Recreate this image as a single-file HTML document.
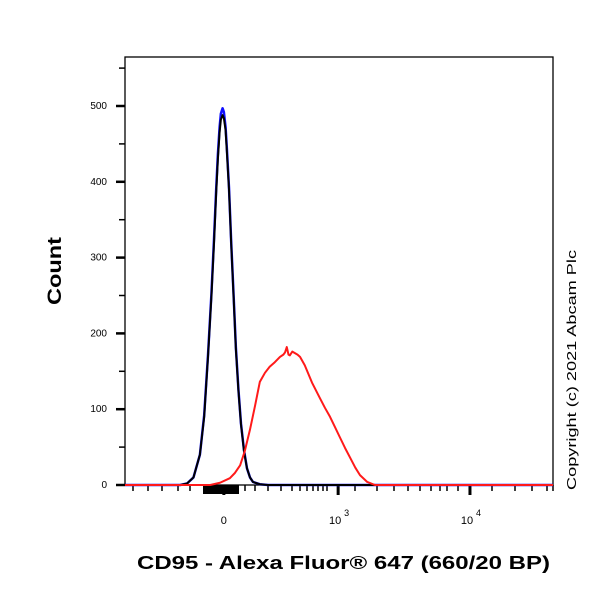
<!DOCTYPE html>
<html><head><meta charset="utf-8"><style>
body{margin:0;background:#fff;width:600px;height:600px;overflow:hidden}
svg{display:block;font-family:"Liberation Sans",Arial,sans-serif}
</style></head><body>
<svg id="chart" width="600" height="600"></svg>
<script>
const blackX=[129,145,160,175,185,194,202,208,213,217,221,224,228,231,235,238,243,248,254,259,265,271,278,285,292,299,315,334];
const blackY=[0,2,10,40,90,170,250,320,385,430,465,482,488,484,468,440,390,320,245,180,125,80,45,22,10,4,1,0];
const blueX=[129,145,160,175,185,194,202,208,213,217,221,224,228,231,235,238,243,248,254,259,265,271,278,285,292,299,315,334];
const blueY=[0,2,10,40,92,172,253,325,390,436,472,490,497,492,472,444,392,322,247,182,126,81,46,22,10,4,1,0];
const redX=[175,199,222,245,257,269,280,292,304,315,327,338,350,362,370,374,378,382,385,391,397,403,409,420,437,455,467,479,491,502,514,526,538,549,566,584];
const redY=[0,0,3,9,16,26,45,73,105,136,148,156,162,169,172,175,182,172,171,176,174,172,169,158,135,115,102,90,76,63,49,36,23,13,4,0];
const yTicks=[0,100,200,300,400,500];
const yTickLabels=["0","100","200","300","400","500"];
const xMajor=[231,498,806];
const xMajorLabels=["0","10","10"];
const xMajorSup=["","3","4"];
const L=125,R=553,T=57,B=485;
const xs=c=>L+c*(R-L)/1000;
const ys=v=>B-v*0.758;
const svg=document.getElementById('chart');
const NS='http://www.w3.org/2000/svg';
function mk(t,a,p){const e=document.createElementNS(NS,t);for(const k in a)e.setAttribute(k,a[k]);(p||svg).appendChild(e);return e;}
const frame=mk('rect',{x:L,y:T,width:R-L,height:B-T,fill:'none',stroke:'#000','stroke-width':1.3});


for(let v=0;v<=550;v+=50){
  const major=v%100===0;
  const t=mk('line',{x1:major?L-9:L-6,x2:L,y1:ys(v),y2:ys(v),stroke:'#000','stroke-width':major?2.5:1.5});
  
  
}
yTicks.forEach((v,i)=>{
  const t=mk('text',{x:L-18,y:ys(v)+3,'font-size':10,'text-anchor':'end'});
  t.textContent=yTickLabels[i];
  
  
});
const minorPx=[133,148,162,178,190,205,213,220,228,236,245,255,268,281,292,300,307,313,318,323,327,355,377,394,408,420,431,440,447,458,492,515,532,547,553];
minorPx.forEach(p=>{
  const t=mk('line',{x1:p,x2:p,y1:B,y2:B+6,stroke:'#000','stroke-width':1.5});
  
  
});
const dense=mk('rect',{x:203,y:B,width:36,height:9,fill:'#000'});


xMajor.forEach((c,i)=>{
  const t=mk('line',{x1:xs(c),x2:xs(c),y1:B,y2:B+10,stroke:'#000','stroke-width':3});
  
  
  const tx=mk('text',{x:xs(c)-(xMajorSup[i]?3:0),y:B+39,'font-size':11,'text-anchor':'middle'});
  tx.textContent=xMajorLabels[i];
  
  
  if(xMajorSup[i]){
    const s=mk('text',{x:xs(c)+6,y:B+31,'font-size':9});
    s.textContent=xMajorSup[i];
    
    
  }
});
function series(X,Y,color,name,w){
  let pts=[[L,B]];
  X.forEach((x,i)=>pts.push([xs(x),ys(Y[i])]));
  pts.push([R,B]);
  const p=mk('polyline',{points:pts.map(q=>q.join(',')).join(' '),fill:'none',stroke:color,'stroke-width':w,'stroke-linejoin':'round'});
  
  
}
series(blueX,blueY,'#1010ff','isotype-blue-line',2.5);
series(blackX,blackY,'#000','control-black-line',2);
series(redX,redY,'#ff1a1a','cd95-red-line',2);
const xt=mk('text',{x:137,y:569,'font-size':18,'font-weight':'bold',textLength:413,lengthAdjust:'spacingAndGlyphs'});
xt.textContent='CD95 - Alexa Fluor® 647 (660/20 BP)';


const yt=mk('text',{x:0,y:0,'font-size':19,'font-weight':'bold','text-anchor':'middle',textLength:68,lengthAdjust:'spacingAndGlyphs',transform:'translate(61,271) rotate(-90)'});
yt.textContent='Count';


const cp=mk('text',{x:0,y:0,'font-size':13,'text-anchor':'middle',textLength:240,lengthAdjust:'spacingAndGlyphs',transform:'translate(576,370) rotate(-90)'});
cp.textContent='Copyright (c) 2021 Abcam Plc';


</script>
</body></html>
